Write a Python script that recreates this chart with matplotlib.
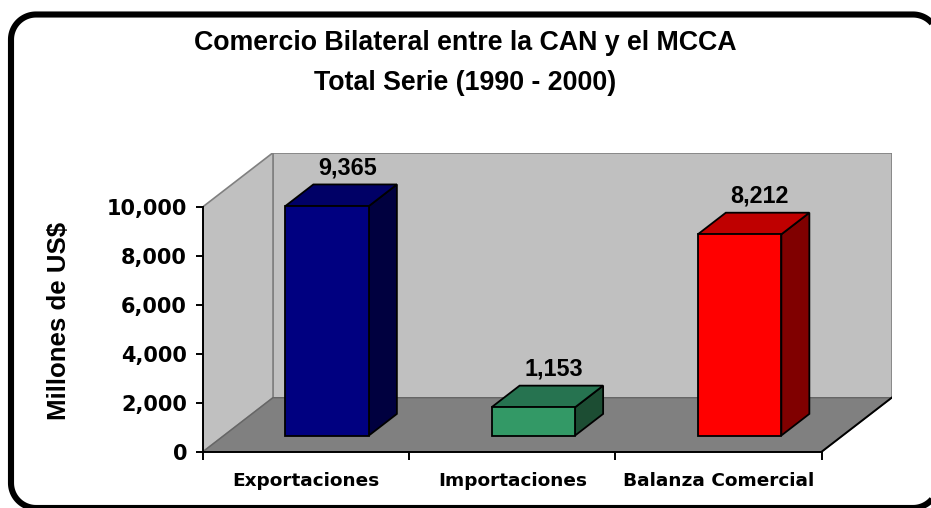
import matplotlib
matplotlib.use('Agg')
import matplotlib.pyplot as plt
import numpy as np
from matplotlib.patches import Polygon
from matplotlib.lines import Line2D

plt.rcParams['savefig.bbox'] = 'standard'

# ---------------- data ----------------
categories = ['Exportaciones', 'Importaciones', 'Balanza Comercial']
values = [9365, 1153, 8212]
value_labels = ['9,365', '1,153', '8,212']
yticks = [0, 2000, 4000, 6000, 8000, 10000]
ytick_labels = ['0', '2,000', '4,000', '6,000', '8,000', '10,000']
title_lines = ['Comercio Bilateral entre la CAN y el MCCA', 'Total Serie (1990 - 2000)']
ylabel = 'Millones de US$'

front_colors = ['#000080', '#339966', '#FF0000']
top_colors = ['#000066', '#267350', '#BF0000']
side_colors = ['#00003F', '#1C4D33', '#800000']

# ---------------- layout (pixels) ----------------
W, H = 931, 508
fig = plt.figure(figsize=(W / 100, H / 100), dpi=100)

# full-figure overlay axes in pixel units, for the rounded frame
fax = fig.add_axes([0, 0, 1, 1], zorder=10)
fax.set_xlim(0, W)
fax.set_ylim(0, H)
fax.axis('off')
fax.patch.set_visible(False)

ax_left, ax_bottom = 203, H - 451.7
ax_w, ax_h = 891.7 - 203, 451.7 - 152.7
ax = fig.add_axes([ax_left / W, ax_bottom / H, ax_w / W, ax_h / H])
ax.patch.set_visible(False)

YMAX = 10000
DX = 70 / ((821.7 - 203) / 3)          # depth offset in category units
DY = 54 / ((451.7 - 206.7) / YMAX)     # depth offset in value units
ax.set_xlim(-0.5, 2.5 + DX)
ax.set_ylim(0, YMAX + DY)

n = len(categories)
xl, xr = -0.5, n - 0.5
wall_c = '#C0C0C0'
floor_c = '#808080'
edge_c = '#808080'

# back wall
ax.add_patch(Polygon([(xl + DX, DY), (xr + DX, DY), (xr + DX, YMAX + DY), (xl + DX, YMAX + DY)],
                     closed=True, facecolor=wall_c, edgecolor=edge_c, lw=1.2, zorder=1))
# side wall
ax.add_patch(Polygon([(xl, 0), (xl + DX, DY), (xl + DX, YMAX + DY), (xl, YMAX)],
                     closed=True, facecolor=wall_c, edgecolor=edge_c, lw=1.2, zorder=1))
# floor
ax.add_patch(Polygon([(xl, 0), (xr, 0), (xr + DX, DY), (xl + DX, DY)],
                     closed=True, facecolor=floor_c, edgecolor='#666666', lw=1.0, zorder=1.1))
ax.add_line(Line2D([xr, xr + DX], [0, DY], color='black', lw=1.4, zorder=2))

# bars
BW = 0.405
D0, D1 = 0.3, 0.7
for i, v in enumerate(values):
    cx = i + D0 * DX
    x1, x2 = cx - BW / 2, cx + BW / 2
    b0 = D0 * DY
    ddx, ddy = (D1 - D0) * DX, (D1 - D0) * DY
    ax.add_patch(Polygon([(x2, b0), (x2 + ddx, b0 + ddy), (x2 + ddx, b0 + ddy + v), (x2, b0 + v)],
                         closed=True, facecolor=side_colors[i], edgecolor='black', lw=1.3, zorder=3))
    ax.add_patch(Polygon([(x1, b0 + v), (x2, b0 + v), (x2 + ddx, b0 + ddy + v), (x1 + ddx, b0 + ddy + v)],
                         closed=True, facecolor=top_colors[i], edgecolor='black', lw=1.3, zorder=3))
    ax.add_patch(Polygon([(x1, b0), (x2, b0), (x2, b0 + v), (x1, b0 + v)],
                         closed=True, facecolor=front_colors[i], edgecolor='black', lw=1.3, zorder=4))
    ax.text(i + 0.5 * (D0 + D1) * DX + 0.03, v + D1 * DY + 420, value_labels[i],
            ha='center', va='baseline', fontsize=16.8, fontweight='bold',
            family='Liberation Sans', color='black', zorder=5)

# axes / spines
for s in ['top', 'right']:
    ax.spines[s].set_visible(False)
ax.spines['left'].set_bounds(0, YMAX)
ax.spines['bottom'].set_bounds(xl, xr)
for s in ['left', 'bottom']:
    ax.spines[s].set_linewidth(1.4)
    ax.spines[s].set_zorder(2.5)

ax.set_yticks(yticks)
ax.set_yticklabels(ytick_labels)
ax.tick_params(axis='y', direction='out', length=5, width=1.4, pad=6.5)
for t in ax.get_yticklabels():
    t.set_fontfamily('DejaVu Sans')
    t.set_fontweight('bold')
    t.set_fontsize(15)

ax.set_xticks([xl + k for k in range(n + 1)])
ax.set_xticklabels([])
ax.set_xticks(list(range(n)), minor=True)
ax.set_xticklabels(categories, minor=True)
ax.tick_params(axis='x', which='major', direction='out', length=6, width=1.4)
ax.tick_params(axis='x', which='minor', length=0, pad=14.5)
for t in ax.get_xticklabels(minor=True):
    t.set_fontfamily('DejaVu Sans')
    t.set_fontweight('bold')
    t.set_fontsize(13.3)

# titles
fig.text(465 / W, 1 - 49.5 / H, title_lines[0], ha='center', va='baseline',
         fontsize=19.3, fontweight='bold', family='Liberation Sans')
fig.text(465 / W, 1 - 90 / H, title_lines[1], ha='center', va='baseline',
         fontsize=19.3, fontweight='bold', family='Liberation Sans')
fig.text(59 / W, 1 - 320.5 / H, ylabel, rotation=90, ha='center', va='center',
         fontsize=18.6, fontweight='bold', family='Liberation Sans')

# rounded frame, cut by the picture edge on the right (drawn open there)
FL, FR, FB, FT, R = 11, 938, 0, H - 14.5, 25

def arc(cx, cy, a0, a1):
    t = np.radians(np.linspace(a0, a1, 30))
    return list(cx + R * np.cos(t)), list(cy + R * np.sin(t))

fx, fy = [], []
for seg in [arc(FR - R, FT - R, 0, 90),
            ([FL + R], [FT]),
            arc(FL + R, FT - R, 90, 180),
            ([FL], [FB + R]),
            arc(FL + R, FB + R, 180, 270),
            ([FR - R], [FB]),
            arc(FR - R, FB + R, 270, 360)]:
    fx += seg[0]
    fy += seg[1]
fax.add_line(Line2D(fx, fy, color='black', lw=4.4, solid_capstyle='butt',
                    solid_joinstyle='round'))

fig.savefig('out.png', dpi=100, bbox_inches=None)
